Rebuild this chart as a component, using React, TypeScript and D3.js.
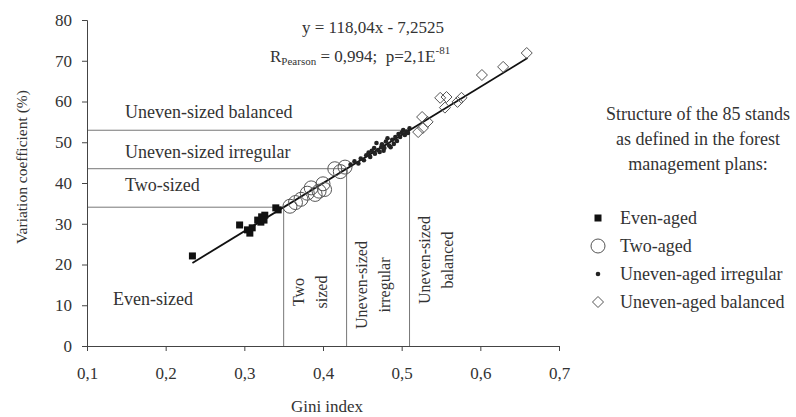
import React, { useEffect, useRef } from 'react';
import * as d3 from 'd3';

const xTicks = [0.1, 0.2, 0.3, 0.4, 0.5, 0.6, 0.7];
const yTicks = [0, 10, 20, 30, 40, 50, 60, 70, 80];
const fmt = (v: number) => d3.format('.1f')(v).replace('.', ',');

// gini, variation coefficient
const evenAged: [number, number][] = [
	[0.234, 22.1], [0.294, 29.7], [0.304, 28.5], [0.307, 27.7], [0.31, 29.0], [0.317, 30.9],
	[0.322, 31.7], [0.326, 32.1], [0.321, 30.4], [0.325, 30.9], [0.34, 33.9], [0.343, 33.4],
];
const twoAged: [number, number][] = [
	[0.358, 34.3], [0.365, 35.2], [0.372, 36.0], [0.38, 37.5], [0.385, 38.8], [0.39, 37.2],
	[0.395, 38.0], [0.4, 39.8], [0.402, 38.4], [0.415, 43.5], [0.422, 42.8], [0.428, 43.9],
];
const unevenIrregular: [number, number][] = [
	[0.435, 44.5], [0.44, 45.3], [0.445, 44.8], [0.448, 46.0], [0.452, 45.6], [0.455, 46.8],
	[0.458, 47.5], [0.46, 46.4], [0.462, 47.9], [0.465, 48.6], [0.466, 47.2], [0.468, 49.8],
	[0.47, 48.1], [0.472, 47.6], [0.474, 48.8], [0.475, 49.5], [0.477, 47.9], [0.478, 48.6],
	[0.48, 50.2], [0.482, 51.0], [0.484, 49.2], [0.486, 48.8], [0.488, 50.6], [0.49, 49.6],
	[0.492, 51.3], [0.494, 50.3], [0.496, 52.0], [0.498, 51.3], [0.5, 52.4], [0.502, 53.0],
	[0.504, 51.8], [0.506, 52.6], [0.508, 52.3], [0.51, 53.4],
];
const unevenBalanced: [number, number][] = [
	[0.521, 52.5], [0.527, 53.5], [0.526, 56.2], [0.533, 55.0], [0.549, 60.9], [0.557, 61.1],
	[0.555, 58.5], [0.571, 59.9], [0.576, 60.9], [0.602, 66.5], [0.629, 68.5], [0.659, 71.9],
];
const thresholds = [0.35, 0.43, 0.51];
const slope = 118.04;
const intercept = -7.2525;
const lineRange = [0.234, 0.66];

const font = 'Liberation Serif, Times New Roman, serif';
const ink = '#333';

const XAxis = ({ scale, top }) => {
	const axis = useRef(null);
	useEffect(() => {
		const g = d3.select(axis.current);
		g.call(d3.axisBottom(scale).tickValues(xTicks).tickFormat(fmt).tickSize(5).tickPadding(16));
		g.selectAll('path,line').attr('stroke', '#444');
		g.selectAll('text').attr('font-family', font).attr('font-size', 17).attr('fill', ink);
	}, []);
	return <g ref={axis} transform={`translate(0, ${top})`} />;
};

const YAxis = ({ scale, left }) => {
	const axis = useRef(null);
	useEffect(() => {
		const g = d3.select(axis.current);
		g.call(d3.axisLeft(scale).tickValues(yTicks).tickSize(5).tickPadding(10));
		g.selectAll('path,line').attr('stroke', '#444');
		g.selectAll('text').attr('font-family', font).attr('font-size', 17).attr('fill', ink);
	}, []);
	return <g ref={axis} transform={`translate(${left}, 0)`} />;
};

const Square = ({ x, y }) => <rect x={x - 3.5} y={y - 3.5} width={7} height={7} fill="#111" />;
const Circle = ({ x, y }) => <circle cx={x} cy={y} r={7} fill="none" stroke="#555" strokeWidth={1} />;
const Dot = ({ x, y }) => <circle cx={x} cy={y} r={2.3} fill="#222" />;
const Diamond = ({ x, y }) => (
	<path d={`M${x},${y - 5.5}L${x + 5.5},${y}L${x},${y + 5.5}L${x - 5.5},${y}Z`} fill="none" stroke="#555" strokeWidth={1} />
);

const App = () => {
	const width = 796;
	const height = 417;
	const x = d3.scaleLinear().domain([0.1, 0.7]).range([87, 559]);
	const y = d3.scaleLinear().domain([0, 80]).range([346, 20]);
	const reg = (g: number) => slope * g + intercept;

	const regionLabels = ['Two-sized', 'Uneven-sized irregular', 'Uneven-sized balanced'];
	const regionOffsets = [-16, -11, -12];
	const vertLabels = [['Two', 'sized'], ['Uneven-sized', 'irregular'], ['Uneven-sized', 'balanced']];
	const vertCenters = [292, 285, 260];
	const legend = [
		{ label: 'Even-aged', M: Square },
		{ label: 'Two-aged', M: Circle },
		{ label: 'Uneven-aged irregular', M: Dot },
		{ label: 'Uneven-aged balanced', M: Diamond },
	];

	return (
		<svg width={width} height={height} style={{ position: 'absolute', left: 0, top: 0, background: '#fff' }}>
			{/* structure zones */}
			{thresholds.map((t) => (
				<g key={t} stroke="#777" strokeWidth={1}>
					<line x1={x(0.1)} x2={x(t)} y1={y(reg(t))} y2={y(reg(t))} />
					<line x1={x(t)} x2={x(t)} y1={y(0)} y2={y(reg(t))} />
				</g>
			))}
			<g fontFamily={font} fontSize={18} fill={ink}>
				{thresholds.map((t, i) => (
					<text key={t} x={125} y={y(reg(t)) + regionOffsets[i]}>{regionLabels[i]}</text>
				))}
				<text x={113} y={305}>Even-sized</text>
			</g>
			<g fontFamily={font} fontSize={16} fill={ink}>
				{thresholds.map((t, i) => (
					<text key={t} transform={`translate(${x(t) + 20}, ${vertCenters[i]}) rotate(-90)`} textAnchor="middle">
						<tspan x={0} y={0}>{vertLabels[i][0]}</tspan>
						<tspan x={0} y={23}>{vertLabels[i][1]}</tspan>
					</text>
				))}
			</g>

			<XAxis scale={x} top={y(0)} />
			<YAxis scale={y} left={x(0.1)} />

			{/* regression */}
			<line x1={x(lineRange[0])} y1={y(reg(lineRange[0]))} x2={x(lineRange[1])} y2={y(reg(lineRange[1]))} stroke="#111" strokeWidth={1.8} />

			{evenAged.map((d, i) => <Square key={'e' + i} x={x(d[0])} y={y(d[1])} />)}
			{twoAged.map((d, i) => <Circle key={'t' + i} x={x(d[0])} y={y(d[1])} />)}
			{unevenIrregular.map((d, i) => <Dot key={'i' + i} x={x(d[0])} y={y(d[1])} />)}
			{unevenBalanced.map((d, i) => <Diamond key={'b' + i} x={x(d[0])} y={y(d[1])} />)}

			<g fontFamily={font} fontSize={17} fill={ink}>
				<text x={373} y={33} textAnchor="middle">y = 118,04x - 7,2525</text>
				<text x={270} y={62}>
					R<tspan fontSize={11} dy={3}>Pearson</tspan>
					<tspan dy={-3}>{' = 0,994;\u00a0\u00a0p=2,1E'}</tspan>
					<tspan fontSize={11} dy={-8}>-81</tspan>
				</text>
			</g>
			<g fontFamily={font} fontSize={17} fill={ink}>
				<text x={327} y={412} textAnchor="middle">Gini index</text>
			</g>
			<g fontFamily={font} fontSize={15.5} fill={ink}>
				<text transform={`translate(27, 167) rotate(-90)`} textAnchor="middle">Variation coefficient (%)</text>
			</g>
			<g fontFamily={font} fontSize={18} fill={ink}>
				<text textAnchor="middle">
					<tspan x={698} y={120}>Structure of the 85 stands</tspan>
					<tspan x={698} y={145}>as defined in the forest</tspan>
					<tspan x={698} y={170}>management plans:</tspan>
				</text>
				{legend.map(({ label, M }, i) => (
					<g key={label}>
						<M x={598} y={218 + i * 28} />
						<text x={620} y={224 + i * 28}>{label}</text>
					</g>
				))}
			</g>
		</svg>
	);
};

export default App;
